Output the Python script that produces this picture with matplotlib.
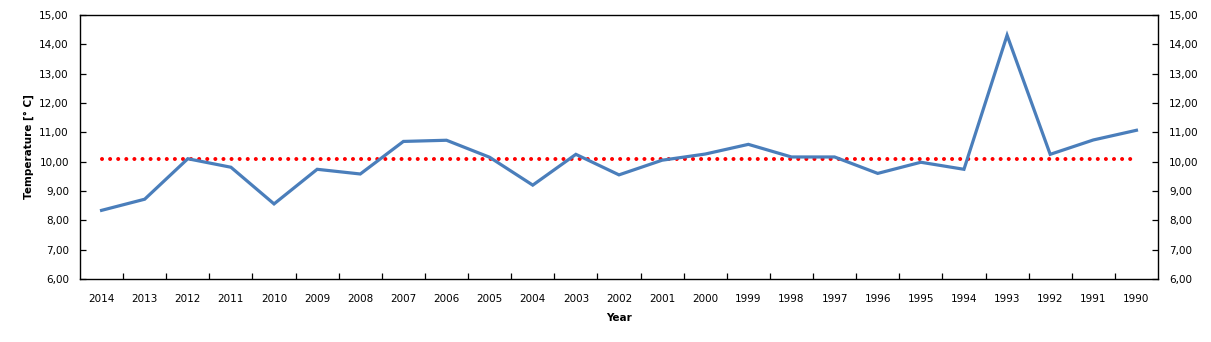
import numpy as np
import matplotlib
matplotlib.use('Agg')
import matplotlib.pyplot as plt
from matplotlib.ticker import FuncFormatter, FixedLocator

# Datos
years = ['2014', '2013', '2012', '2011', '2010', '2009', '2008', '2007', '2006',
         '2005', '2004', '2003', '2002', '2001', '2000', '1999', '1998', '1997',
         '1996', '1995', '1994', '1993', '1992', '1991', '1990']
temps = [8.34, 8.72, 10.10, 9.81, 8.56, 9.74, 9.58, 10.69, 10.73,
         10.15, 9.20, 10.25, 9.55, 10.05, 10.26, 10.59, 10.16, 10.16,
         9.60, 9.98, 9.74, 14.31, 10.25, 10.74, 11.07]
mean_temp = 10.10

plt.rcParams['font.family'] = 'DejaVu Sans'

fig = plt.figure(figsize=(12.11, 3.42), dpi=100)
ax = fig.add_axes([80 / 1211, 1 - 279 / 342, (1158 - 80) / 1211, (279 - 15) / 342])

x = np.arange(len(years))
ax.plot(x, temps, color='#4A7EBB', linewidth=2.3, solid_joinstyle='miter', zorder=3)
ax.plot(x, [mean_temp] * len(x), color='#FF0000', linestyle=(0, (0.01, 2.0)),
        linewidth=2.9, dash_capstyle='round', zorder=2)

ax.set_xlim(-0.5, len(years) - 0.5)
ax.set_ylim(6, 15)
ax.set_xticks(x)
ax.set_xticklabels(years, fontsize=7.5)
ax.xaxis.set_minor_locator(FixedLocator(np.arange(0.5, len(years) - 1, 1.0)))
ax.tick_params(axis='x', which='major', length=0, pad=11)
ax.tick_params(axis='x', which='minor', direction='in', length=4, width=0.9)

fmt = FuncFormatter(lambda v, p: f'{v:.2f}'.replace('.', ','))
ax.set_yticks(np.arange(6, 15.1, 1))
ax.yaxis.set_major_formatter(fmt)
ax.tick_params(axis='y', direction='in', length=4, width=0.9, labelsize=7.5, pad=8,
               right=True, labelright=True)

for s in ax.spines.values():
    s.set_linewidth(1.0)

ax.set_xlabel('Year', fontsize=7.5, fontweight='bold', labelpad=6)
ax.set_ylabel('Temperature [° C]', fontsize=7.5, fontweight='bold', labelpad=4)

fig.savefig('out.png', dpi=100)
